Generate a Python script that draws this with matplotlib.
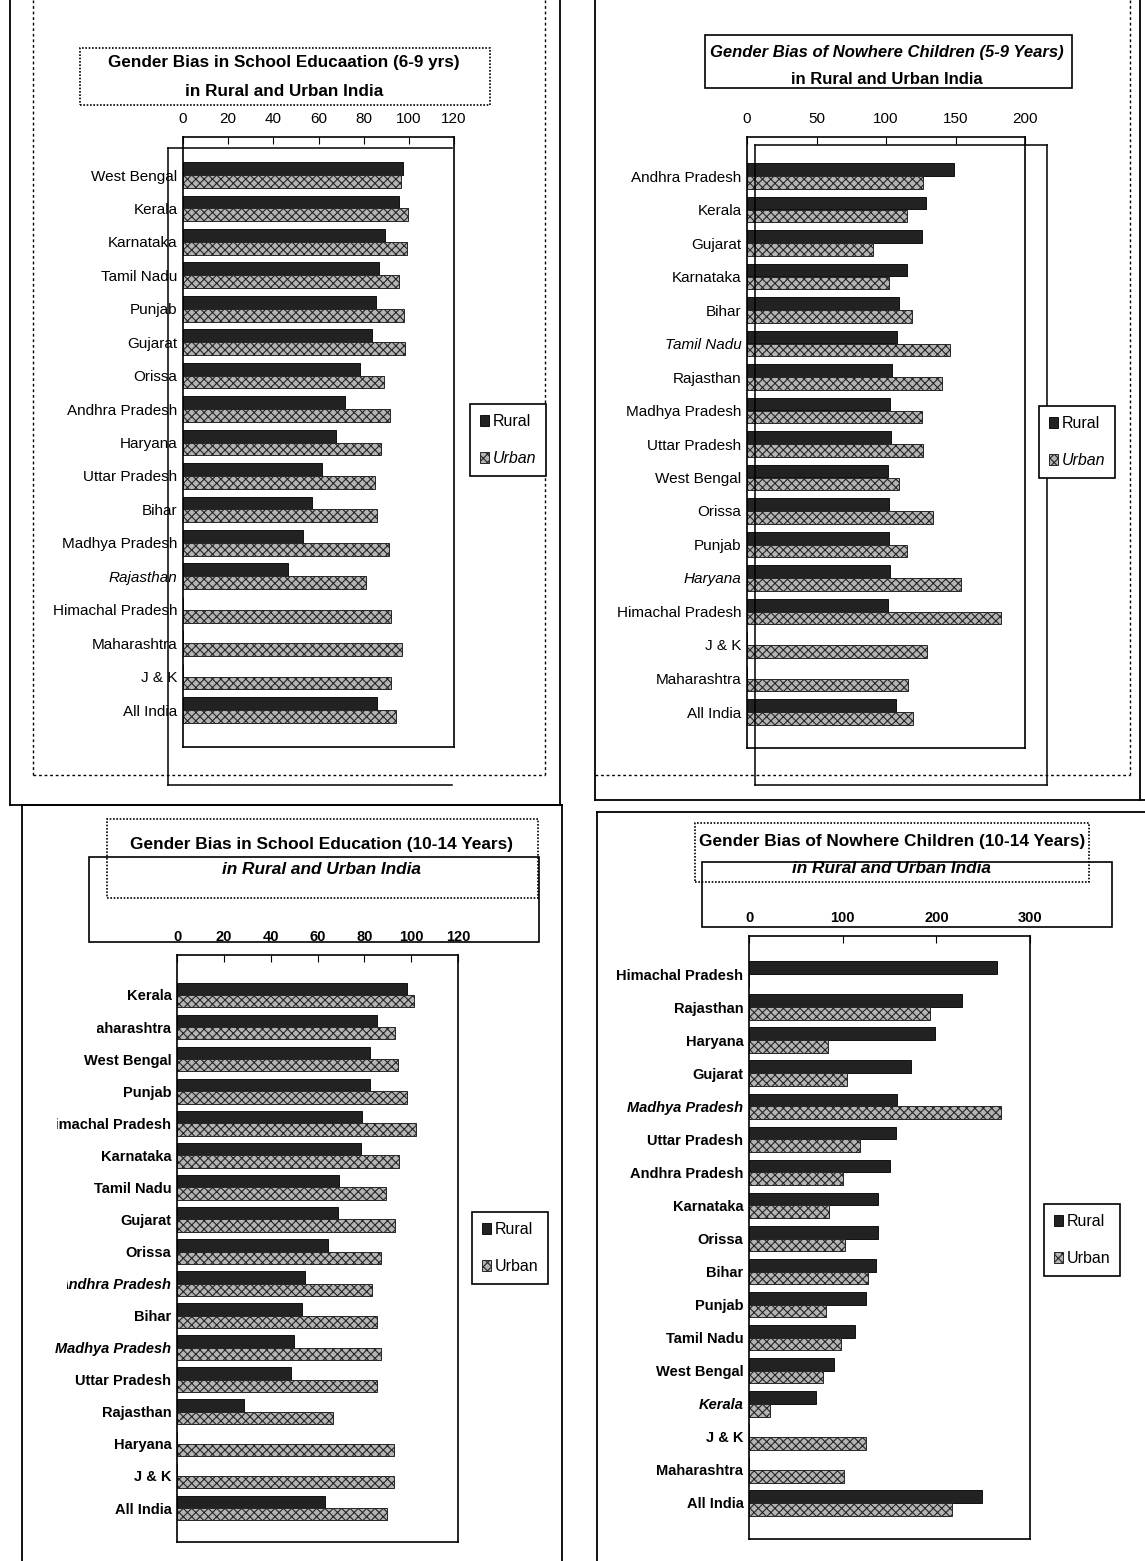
import numpy as np
import matplotlib
matplotlib.use('Agg')
from matplotlib import pyplot as plt
from matplotlib import font_manager as fm
from matplotlib.patches import Rectangle
from matplotlib.lines import Line2D
from matplotlib.transforms import Bbox, TransformedBbox

# ---- data ----
states_a = ['West Bengal', 'Kerala', 'Karnataka', 'Tamil Nadu', 'Punjab', 'Gujarat', 'Orissa',
            'Andhra Pradesh', 'Haryana', 'Uttar Pradesh', 'Bihar', 'Madhya Pradesh', 'Rajasthan',
            'Himachal Pradesh', 'Maharashtra', 'J & K', 'All India']
rural_a = [97.4, 95.5, 89.3, 86.8, 85.3, 83.8, 78.5, 71.9, 67.9, 61.7, 57.3, 53.1, 46.5, 0, 0, 0, 85.9]
urban_a = [96.4, 99.6, 99.2, 95.5, 97.7, 98.3, 88.9, 91.8, 87.8, 84.9, 85.9, 91.1, 81.2, 92.3, 97.1, 92.3, 94.2]

states_b = ['Andhra Pradesh', 'Kerala', 'Gujarat', 'Karnataka', 'Bihar', 'Tamil Nadu', 'Rajasthan',
            'Madhya Pradesh', 'Uttar Pradesh', 'West Bengal', 'Orissa', 'Punjab', 'Haryana',
            'Himachal Pradesh', 'J & K', 'Maharashtra', 'All India']
rural_b = [148.8, 128.7, 125.6, 114.8, 109.3, 107.7, 104.1, 102.9, 103.3, 101.7, 102.4, 102.4, 102.9, 101.7, 0, 0, 107.2]
urban_b = [126.8, 114.8, 90.9, 102.4, 118.9, 145.9, 140.4, 126.1, 126.3, 109.3, 134.0, 114.8, 154.3, 182.5, 129.2, 116.0, 119.6]

states_c = ['Kerala', 'Maharashtra', 'West Bengal', 'Punjab', 'Himachal Pradesh', 'Karnataka',
            'Tamil Nadu', 'Gujarat', 'Orissa', 'Andhra Pradesh', 'Bihar', 'Madhya Pradesh',
            'Uttar Pradesh', 'Rajasthan', 'Haryana', 'J & K', 'All India']
rural_c = [98.3, 85.3, 82.5, 82.5, 79.1, 78.7, 69.1, 68.7, 64.4, 54.8, 53.5, 49.8, 48.5, 28.4, 0, 0, 63.4]
urban_c = [101.1, 93.3, 94.3, 98.3, 102.1, 94.6, 89.3, 93.3, 87.2, 83.4, 85.3, 87.2, 85.3, 66.6, 92.6, 92.5, 89.6]

states_d = ['Himachal Pradesh', 'Rajasthan', 'Haryana', 'Gujarat', 'Madhya Pradesh', 'Uttar Pradesh',
            'Andhra Pradesh', 'Karnataka', 'Orissa', 'Bihar', 'Punjab', 'Tamil Nadu', 'West Bengal',
            'Kerala', 'J & K', 'Maharashtra', 'All India']
rural_d = [265.0, 227.3, 198.2, 172.6, 158.1, 156.7, 150.3, 137.8, 137.8, 136.1, 125.4, 113.0, 90.9, 71.0, 0, 0, 249.0]
urban_d = [0, 192.9, 84.5, 104.1, 269.3, 118.3, 100.5, 85.3, 103.0, 127.5, 82.1, 97.7, 78.5, 22.4, 125.4, 101.6, 217.0]

ticks_a = [0, 20, 40, 60, 80, 100, 120]
ticks_b = [0, 50, 100, 150, 200]
ticks_d = [0, 100, 200, 300]

W, H = 1145, 1561
names = {f.name for f in fm.fontManager.ttflist}
SANS = 'Liberation Sans' if 'Liberation Sans' in names else 'DejaVu Sans'
NARROW = 'Liberation Sans Narrow' if 'Liberation Sans Narrow' in names else SANS
narrow_ok = NARROW != SANS

plt.rcParams['font.family'] = SANS
plt.rcParams['hatch.linewidth'] = 0.8

fig = plt.figure(figsize=(W / 100, H / 100), dpi=100)


def fx(px):
    return px / W


def fy(py):
    return 1 - py / H


def line(x0, y0, x1, y1, ls='-', lw=1.3):
    fig.add_artist(Line2D([fx(x0), fx(x1)], [fy(y0), fy(y1)], transform=fig.transFigure,
                          color='k', lw=lw, ls=ls))


def box(x0, y0, x1, y1, ls='-', lw=1.2):
    fig.add_artist(Rectangle((fx(x0), fy(y1)), (x1 - x0) / W, (y1 - y0) / H, transform=fig.transFigure,
                             fill=False, ec='k', lw=lw, ls=ls))


def panel(rect, states, rural, urban, ticks, first_c, last_c, fam, size, weight, italics, clips):
    l, t, r, b = rect
    ax = fig.add_axes([fx(l), fy(b), (r - l) / W, (b - t) / H])
    n = len(states)
    y = np.arange(n)
    step = (last_c - first_c) / (n - 1)
    h = 0.385
    br = ax.barh(y - h / 2, rural, height=h, color='#222222', edgecolor='#111111', lw=0.7, label='Rural')
    bu = ax.barh(y + h / 2, urban, height=h, color='#b4b4b4', edgecolor='#262626', hatch='xxxx',
                 lw=0.7, label='Urban')
    ax.set_xlim(ticks[0], ticks[-1])
    ax.set_ylim((n - 1) + (b - last_c) / step, -(first_c - t) / step)
    ax.xaxis.tick_top()
    ax.set_xticks(ticks)
    ax.set_xticklabels([str(v) for v in ticks], family=fam, fontsize=size, fontweight=weight)
    ax.tick_params(axis='x', direction='in', length=5, pad=8)
    ax.set_yticks(y)
    ax.set_yticklabels(states, family=fam, fontsize=size, fontweight=weight)
    ax.tick_params(axis='y', length=0, pad=4)
    for tl in ax.get_yticklabels():
        if tl.get_text() in italics:
            tl.set_fontstyle('italic')
        if tl.get_text() in clips:
            tl.set_clip_box(TransformedBbox(Bbox.from_extents(fx(clips[tl.get_text()]), 0, 1, 1),
                                            fig.transFigure))
            tl.set_clip_on(True)
    for s in ax.spines.values():
        s.set_linewidth(1.2)
    return br, bu


def legend(handles, cx, cy, urban_italic):
    lg = fig.legend(handles, ['Rural', 'Urban'], loc='center', bbox_to_anchor=(fx(cx), fy(cy)),
                    bbox_transform=fig.transFigure, fancybox=False, edgecolor='k', framealpha=1,
                    handlelength=0.6, handleheight=0.7, handletextpad=0.2, labelspacing=1.4,
                    borderpad=0.6, prop={'family': SANS, 'size': 11.5})
    lg.get_frame().set_linewidth(1.2)
    if urban_italic:
        lg.get_texts()[1].set_fontstyle('italic')


nsize = 12.5 if narrow_ok else 10.5

# ---- top left ----
h1 = panel((183, 137, 454, 747), states_a, rural_a, urban_a, ticks_a, 175, 710,
           SANS, 11, 'normal', {'Rajasthan'}, {})
box(80, 48, 490, 105, ls=(0, (1, 1)))
fig.text(fx(284), fy(63), 'Gender Bias in School Educaation (6-9 yrs)', ha='center', va='center',
         fontsize=12.3, fontweight='bold')
fig.text(fx(284), fy(92), 'in Rural and Urban India', ha='center', va='center',
         fontsize=12.3, fontweight='bold')
legend(h1, 508, 440, True)

# ---- top right ----
h2 = panel((747, 137, 1025, 748), states_b, rural_b, urban_b, ticks_b, 176, 712,
           SANS, 11, 'normal', {'Tamil Nadu', 'Haryana'}, {})
box(705, 35, 1072, 88)
fig.text(fx(887), fy(53), 'Gender Bias of Nowhere Children (5-9 Years)', ha='center', va='center',
         fontsize=12, fontweight='bold', fontstyle='italic')
fig.text(fx(887), fy(80), 'in Rural and Urban India', ha='center', va='center',
         fontsize=12, fontweight='bold')
legend(h2, 1077, 442, True)

# ---- bottom left ----
h3 = panel((177, 955, 458, 1542), states_c, rural_c, urban_c, ticks_a, 995, 1508,
           NARROW, nsize, 'bold', {'Andhra Pradesh', 'Madhya Pradesh'},
           {'Maharashtra': 97, 'West Bengal': 82, 'Himachal Pradesh': 57, 'Andhra Pradesh': 67})
box(107, 819, 538, 898, ls=(0, (1, 1)))
box(89, 857, 539, 942)
fig.text(fx(322), fy(845), 'Gender Bias in School Education (10-14 Years)', ha='center', va='center',
         fontsize=12.4, fontweight='bold')
fig.text(fx(322), fy(870), 'in Rural and Urban India', ha='center', va='center',
         fontsize=12.4, fontweight='bold', fontstyle='italic')
legend(h3, 510, 1248, False)

# ---- bottom right ----
h4 = panel((749, 936, 1030, 1539), states_d, rural_d, urban_d, ticks_d, 974, 1503,
           NARROW, nsize, 'bold', {'Madhya Pradesh', 'Kerala'}, {})
box(695, 823, 1089, 882, ls=(0, (1, 1)))
box(702, 862, 1112, 927)
fig.text(fx(892), fy(842), 'Gender Bias of Nowhere Children (10-14 Years)', ha='center', va='center',
         fontsize=12.4, fontweight='bold')
fig.text(fx(892), fy(868), 'in Rural and Urban India', ha='center', va='center',
         fontsize=12.4, fontweight='bold', fontstyle='italic')
legend(h4, 1082, 1240, False)

# ---- page frames of the cut-out charts ----
line(10, 0, 10, 805)
line(10, 805, 560, 805)
line(560, 0, 560, 805)
line(33, 0, 33, 775, ls=(0, (2, 2)), lw=1)
line(33, 775, 545, 775, ls=(0, (2, 2)), lw=1)
line(545, 0, 545, 775, ls=(0, (2, 2)), lw=1)
line(168, 148, 168, 785, lw=1.1)
line(168, 785, 452, 785, lw=1.1)
line(168, 148, 452, 148, lw=1.1)

line(595, 0, 595, 800)
line(595, 800, 1145, 800)
line(1140, 0, 1140, 800)
line(595, 775, 1130, 775, ls=(0, (2, 2)), lw=1)
line(1130, 0, 1130, 775, ls=(0, (2, 2)), lw=1)
line(755, 145, 755, 785, lw=1.1)
line(755, 785, 1047, 785, lw=1.1)
line(755, 145, 1047, 145, lw=1.1)
line(1047, 145, 1047, 785, lw=1.1)

line(22, 805, 22, 1561)
line(22, 805, 562, 805)
line(562, 805, 562, 1561)

line(597, 812, 597, 1561)
line(597, 812, 1145, 812)

fig.savefig('out.png', dpi=100)
